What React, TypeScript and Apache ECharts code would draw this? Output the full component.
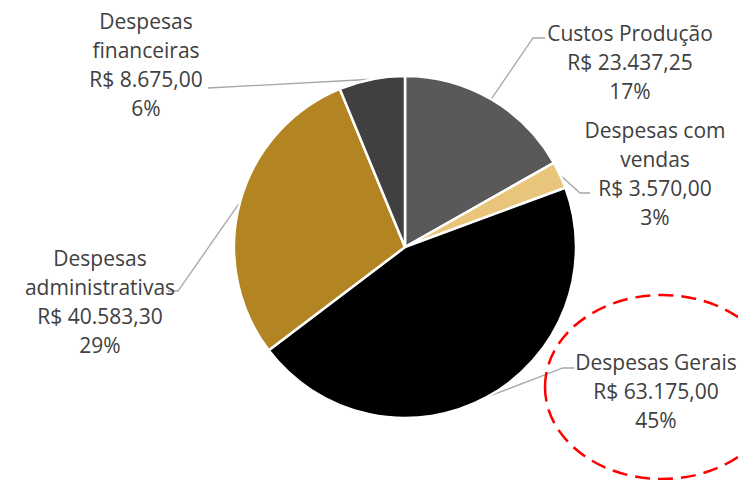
import React, { useEffect, useRef } from "react";
import * as echarts from "echarts";

const categories = [
  "Custos Produção",
  "Despesas com vendas",
  "Despesas Gerais",
  "Despesas administrativas",
  "Despesas financeiras",
];
const labelNames = [
  "Custos Produção",
  "Despesas com\nvendas",
  "Despesas Gerais",
  "Despesas\nadministrativas",
  "Despesas\nfinanceiras",
];
const values = [23437.25, 3570.0, 63175.0, 40583.3, 8675.0];
const colors = ["#595959", "#E8C57A", "#000000", "#B38422", "#404040"];

// label block centres and label-line bend points (layout only)
const labelPos = [
  { x: 630, y: 62, bend: [[533, 38], [545, 38]] },
  { x: 655, y: 173, bend: [[580, 193], [590, 193]] },
  { x: 656, y: 391, bend: [[563, 368], [574, 368]] },
  { x: 100, y: 301, bend: [[178, 291], [168, 291]] },
  { x: 146, y: 64, bend: [[208, 88]] },
];

function brl(v: number): string {
  const fixed = v.toFixed(2);
  const [intPart, dec] = fixed.split(".");
  const withDots = intPart.replace(/\B(?=(\d{3})+(?!\d))/g, ".");
  return "R$ " + withDots + "," + dec;
}

export default function App() {
  const ref = useRef<HTMLDivElement>(null);
  useEffect(() => {
    document.body.style.margin = "0";
    if (!ref.current) return;
    const chart = echarts.init(ref.current, undefined, { renderer: "svg" });
    chart.setOption({
      animation: false,
      backgroundColor: "#FFFFFF",
      graphic: [
        {
          type: "ellipse",
          shape: { cx: 662, cy: 387, rx: 117, ry: 92 },
          style: {
            fill: "none",
            stroke: "#FF0000",
            lineWidth: 2.5,
            lineDash: [15, 8],
          },
          z: 10,
        },
      ],
      series: [
        {
          type: "pie",
          center: [405, 247],
          radius: 171,
          startAngle: 90,
          clockwise: true,
          percentPrecision: 0,
          data: categories.map((c, i) => ({
            name: c,
            value: values[i],
            itemStyle: { color: colors[i] },
          })),
          itemStyle: { borderColor: "#FFFFFF", borderWidth: 2.5 },
          label: {
            show: true,
            position: "outside",
            fontFamily: "Open Sans",
            fontSize: 21,
            lineHeight: 29,
            color: "#404040",
            align: "center",
            overflow: "none",
            edgeDistance: 0,
            formatter: (p: any) =>
              labelNames[p.dataIndex] + "\n" + brl(p.value) + "\n" + p.percent + "%",
          },
          labelLine: {
            show: true,
            lineStyle: { color: "#A6A6A6", width: 1.3 },
          },
          labelLayout: (params: any) => {
            const pos = labelPos[params.dataIndex];
            const p0 = params.labelLinePoints ? params.labelLinePoints[0] : null;
            const out: any = {
              x: pos.x,
              y: pos.y,
              align: "center",
              verticalAlign: "middle",
            };
            if (p0) out.labelLinePoints = [p0, ...pos.bend];
            return out;
          },
          emphasis: { disabled: true },
        },
      ],
    });
    return () => chart.dispose();
  }, []);
  return <div ref={ref} style={{ width: 738, height: 480 }} />;
}
